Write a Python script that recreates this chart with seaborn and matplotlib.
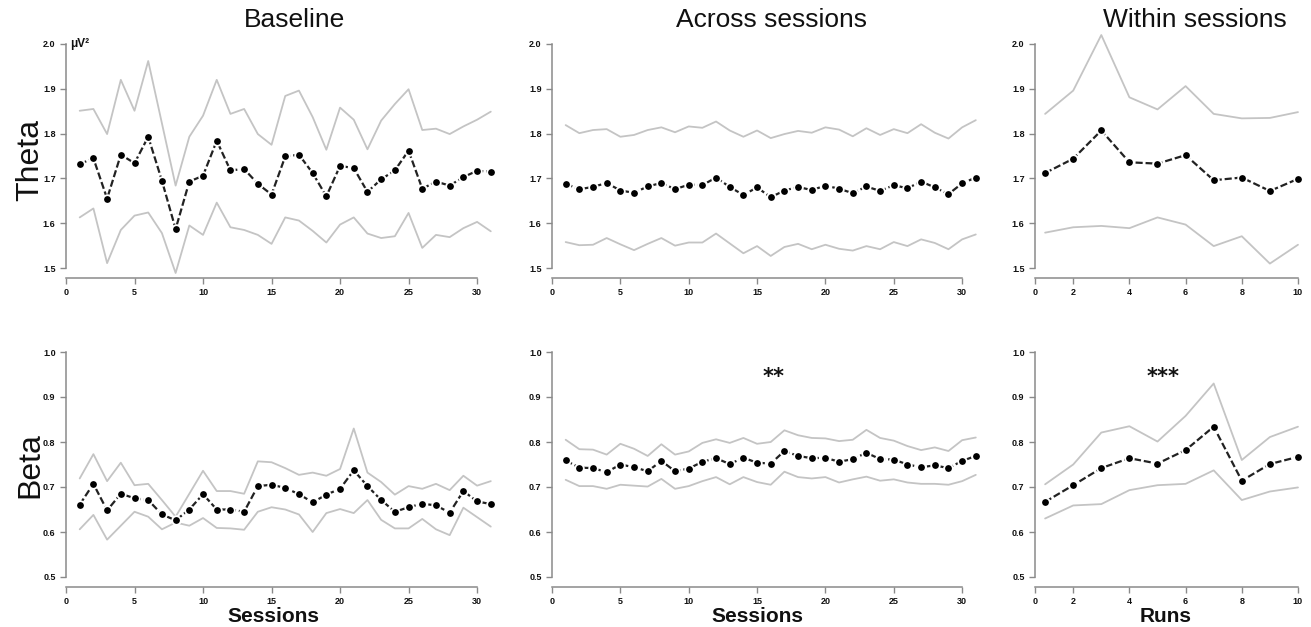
import numpy as np
import pandas as pd
import matplotlib
matplotlib.use("Agg")
import matplotlib.pyplot as plt
import seaborn as sns

# ---------------- data ----------------
sessions = list(range(1, 32))
runs = list(range(1, 11))

theta_base_mean = [1.732, 1.745, 1.655, 1.753, 1.734, 1.793, 1.695, 1.587, 1.693, 1.706,
                   1.784, 1.718, 1.721, 1.688, 1.664, 1.749, 1.753, 1.712, 1.660, 1.728,
                   1.723, 1.670, 1.698, 1.718, 1.762, 1.677, 1.693, 1.684, 1.703, 1.717, 1.715]
theta_base_upper = [1.851, 1.855, 1.799, 1.920, 1.851, 1.962, 1.823, 1.684, 1.793, 1.840,
                    1.920, 1.844, 1.855, 1.799, 1.775, 1.884, 1.896, 1.837, 1.764, 1.858,
                    1.831, 1.765, 1.829, 1.866, 1.899, 1.808, 1.811, 1.799, 1.816, 1.831, 1.849]
theta_base_lower = [1.613, 1.633, 1.511, 1.585, 1.617, 1.624, 1.578, 1.489, 1.595, 1.574,
                    1.646, 1.591, 1.585, 1.574, 1.554, 1.613, 1.606, 1.583, 1.557, 1.597,
                    1.613, 1.577, 1.567, 1.571, 1.623, 1.545, 1.574, 1.569, 1.589, 1.603, 1.582]

theta_across_mean = [1.688, 1.676, 1.681, 1.690, 1.673, 1.668, 1.682, 1.690, 1.676, 1.686,
                     1.685, 1.702, 1.681, 1.663, 1.680, 1.658, 1.673, 1.681, 1.674, 1.684,
                     1.677, 1.667, 1.682, 1.672, 1.685, 1.678, 1.693, 1.680, 1.665, 1.689, 1.702]
theta_across_upper = [1.819, 1.801, 1.808, 1.810, 1.793, 1.797, 1.808, 1.814, 1.803, 1.816,
                      1.813, 1.827, 1.807, 1.793, 1.807, 1.790, 1.799, 1.806, 1.802, 1.814,
                      1.809, 1.794, 1.812, 1.797, 1.810, 1.801, 1.821, 1.802, 1.789, 1.814, 1.830]
theta_across_lower = [1.558, 1.551, 1.552, 1.567, 1.553, 1.540, 1.554, 1.567, 1.550, 1.557,
                      1.557, 1.577, 1.555, 1.533, 1.549, 1.527, 1.547, 1.554, 1.542, 1.552,
                      1.543, 1.539, 1.549, 1.542, 1.558, 1.549, 1.564, 1.556, 1.542, 1.564, 1.575]

theta_within_mean = [1.712, 1.744, 1.807, 1.736, 1.733, 1.752, 1.696, 1.702, 1.672, 1.699]
theta_within_upper = [1.844, 1.896, 2.020, 1.881, 1.854, 1.906, 1.844, 1.834, 1.835, 1.848]
theta_within_lower = [1.579, 1.591, 1.594, 1.589, 1.613, 1.597, 1.549, 1.571, 1.510, 1.552]

beta_base_mean = [0.661, 0.707, 0.648, 0.685, 0.675, 0.671, 0.639, 0.626, 0.650, 0.684,
                  0.650, 0.650, 0.645, 0.702, 0.705, 0.698, 0.684, 0.666, 0.683, 0.696,
                  0.737, 0.702, 0.671, 0.645, 0.655, 0.663, 0.659, 0.643, 0.691, 0.668, 0.662]
beta_base_upper = [0.719, 0.773, 0.713, 0.754, 0.704, 0.707, 0.671, 0.634, 0.685, 0.736,
                   0.691, 0.691, 0.685, 0.757, 0.755, 0.742, 0.727, 0.732, 0.725, 0.740,
                   0.830, 0.732, 0.711, 0.683, 0.702, 0.696, 0.707, 0.693, 0.725, 0.703, 0.713]
beta_base_lower = [0.606, 0.638, 0.583, 0.614, 0.645, 0.634, 0.606, 0.621, 0.614, 0.631,
                   0.609, 0.608, 0.605, 0.645, 0.655, 0.650, 0.639, 0.600, 0.642, 0.651,
                   0.642, 0.671, 0.627, 0.608, 0.608, 0.629, 0.606, 0.593, 0.654, 0.633, 0.612]

beta_across_mean = [0.759, 0.743, 0.742, 0.733, 0.750, 0.744, 0.735, 0.758, 0.735, 0.741,
                    0.756, 0.764, 0.751, 0.765, 0.754, 0.752, 0.780, 0.769, 0.764, 0.765,
                    0.756, 0.762, 0.776, 0.762, 0.761, 0.750, 0.744, 0.748, 0.742, 0.758, 0.769]
beta_across_upper = [0.805, 0.784, 0.783, 0.772, 0.796, 0.785, 0.769, 0.795, 0.772, 0.779,
                     0.798, 0.806, 0.798, 0.809, 0.796, 0.800, 0.826, 0.815, 0.809, 0.808,
                     0.802, 0.805, 0.827, 0.809, 0.803, 0.791, 0.782, 0.788, 0.780, 0.804, 0.810]
beta_across_lower = [0.716, 0.702, 0.702, 0.696, 0.705, 0.703, 0.701, 0.718, 0.696, 0.702,
                     0.713, 0.722, 0.706, 0.722, 0.711, 0.705, 0.734, 0.722, 0.719, 0.722,
                     0.710, 0.717, 0.723, 0.714, 0.717, 0.710, 0.707, 0.707, 0.705, 0.713, 0.727]

beta_within_mean = [0.667, 0.704, 0.742, 0.764, 0.752, 0.782, 0.834, 0.714, 0.751, 0.767]
beta_within_upper = [0.706, 0.750, 0.821, 0.835, 0.801, 0.858, 0.930, 0.760, 0.811, 0.834]
beta_within_lower = [0.630, 0.659, 0.662, 0.693, 0.704, 0.707, 0.737, 0.671, 0.690, 0.699]

col_titles = ["Baseline", "Across sessions", "Within sessions"]
row_titles = ["Theta", "Beta"]
x_labels = ["Sessions", "Sessions", "Runs"]
session_ticks = [0, 5, 10, 15, 20, 25, 30]
run_tick_labels = ["0", "2", "4", "6", "8", "10"]
theta_ticks = [1.5, 1.6, 1.7, 1.8, 1.9, 2.0]
beta_ticks = [0.5, 0.6, 0.7, 0.8, 0.9, 1.0]
stars = {(1, 1): "**", (1, 2): "***"}

# ---------------- style ----------------
sns.set_theme(style="white")
plt.rcParams["font.family"] = ["Liberation Sans", "DejaVu Sans"]
plt.rcParams["text.color"] = "#111111"
plt.rcParams["xtick.labelcolor"] = "#111111"
plt.rcParams["ytick.labelcolor"] = "#111111"

W, H = 1311, 627
fig = plt.figure(figsize=(W / 100, H / 100), dpi=100)

def px_axes(x0, x1, y0, y1):
    # pixel box (left, right, top, bottom) -> figure fraction
    return fig.add_axes([x0 / W, 1 - y1 / H, (x1 - x0) / W, (y1 - y0) / H])

col_px = [(66, 499), (552, 984), (1035, 1305)]
row_px = [(28.3, 281.5), (343, 590.5)]
xlims = [(0, 31.6), (0, 31.6), (0.64, 10.25)]
ylims = [(1.47, 2.035), (0.47, 1.02)]
bottom_spine_pos = [1.4777, 0.4778]

panels = [
    [(sessions, theta_base_mean, theta_base_upper, theta_base_lower),
     (sessions, theta_across_mean, theta_across_upper, theta_across_lower),
     (runs, theta_within_mean, theta_within_upper, theta_within_lower)],
    [(sessions, beta_base_mean, beta_base_upper, beta_base_lower),
     (sessions, beta_across_mean, beta_across_upper, beta_across_lower),
     (runs, beta_within_mean, beta_within_upper, beta_within_lower)],
]

spine_col = "#8a8a8a"
for r in range(2):
    for c in range(3):
        ax = px_axes(col_px[c][0], col_px[c][1], row_px[r][0], row_px[r][1])
        x, m, up, lo = panels[r][c]
        df = pd.DataFrame({"x": x, "mean": m, "upper": up, "lower": lo})
        sns.lineplot(data=df, x="x", y="upper", ax=ax, color="#c4c4c4", lw=1.3, clip_on=False)
        sns.lineplot(data=df, x="x", y="lower", ax=ax, color="#c4c4c4", lw=1.3, clip_on=False)
        sns.lineplot(data=df, x="x", y="mean", ax=ax, color="#222222", lw=1.6,
                     linestyle=(0, (3.2, 1.3)), marker="o", markersize=6.2,
                     markerfacecolor="black", markeredgecolor="white",
                     markeredgewidth=1.3, clip_on=False)
        ax.set_xlim(*xlims[c])
        ax.set_ylim(*ylims[r])
        for s in ["top", "right"]:
            ax.spines[s].set_visible(False)
        ax.spines["left"].set_color(spine_col)
        ax.spines["bottom"].set_color(spine_col)
        ax.spines["left"].set_linewidth(1.1)
        ax.spines["bottom"].set_linewidth(1.1)
        ax.spines["bottom"].set_position(("data", bottom_spine_pos[r]))
        yt = theta_ticks if r == 0 else beta_ticks
        ax.set_yticks(yt)
        ax.set_yticklabels([f"{v:.1f}" for v in yt])
        ax.spines["left"].set_bounds(yt[0], yt[-1])
        if c < 2:
            ax.set_xticks(session_ticks)
            ax.set_xticklabels([str(t) for t in session_ticks])
            ax.spines["bottom"].set_bounds(0, 30)
        else:
            rt = [xlims[c][0], 2, 4, 6, 8, 10]
            ax.set_xticks(rt)
            ax.set_xticklabels(run_tick_labels)
            ax.spines["bottom"].set_bounds(rt[0], 10)
        ax.tick_params(axis="both", direction="out", length=4.5, width=1.0,
                       color=spine_col, labelsize=6.5, pad=3,
                       bottom=True, left=True)
        for lab in ax.get_xticklabels() + ax.get_yticklabels():
            lab.set_fontweight("bold")
        ax.set_xlabel("")
        ax.set_ylabel("")
        ax.patch.set_alpha(0)
        if (r, c) in stars:
            sx = 16.2 if c == 1 else 5.2
            ax.text(sx, 0.944, stars[(r, c)], ha="center", va="center",
                    fontsize=15, fontweight="bold", family="DejaVu Sans")
        if r == 0 and c == 0:
            ax.text(0.3, 2.0, "μV²", ha="left", va="center", fontsize=8.5,
                    fontweight="bold")

# column titles
for t, xc in zip(col_titles, [295, 772, 1195]):
    fig.text(xc / W, 1 - 20 / H, t, ha="center", va="center", fontsize=19)
# row titles
for t, yc in zip(row_titles, [160, 465]):
    fig.text(30 / W, 1 - yc / H, t, ha="center", va="center", fontsize=23, rotation=90)
# x labels
for t, xc in zip(x_labels, [273, 757, 1166]):
    fig.text(xc / W, 1 - 617 / H, t, ha="center", va="center", fontsize=15, fontweight="bold")

fig.savefig("out.png", dpi=100, facecolor="white")
